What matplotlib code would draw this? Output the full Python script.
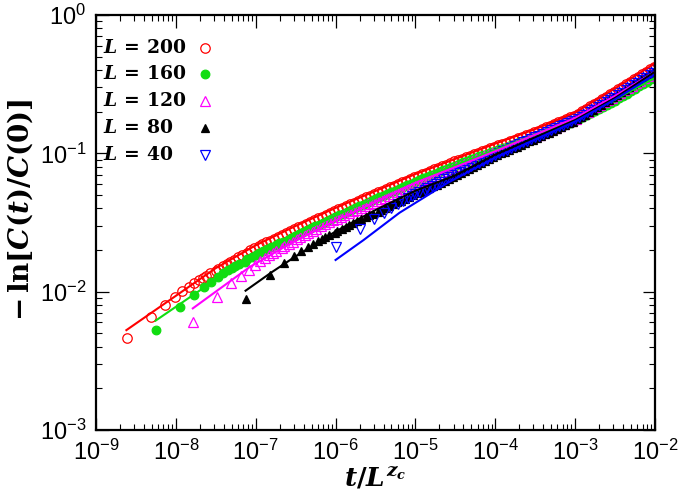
import numpy as np
import matplotlib
matplotlib.use('Agg')
import matplotlib.pyplot as plt
from matplotlib.ticker import FixedLocator, NullFormatter

plt.rcParams['font.family'] = ['Liberation Sans', 'DejaVu Sans']
plt.rcParams['mathtext.fontset'] = 'custom'
plt.rcParams['mathtext.rm'] = 'DejaVu Serif:bold'
plt.rcParams['mathtext.it'] = 'DejaVu Serif:italic:bold'
plt.rcParams['mathtext.bf'] = 'DejaVu Serif:bold'

# dynamic exponent used for the scaling of time
zc = 3.745

# sampled times (shared by all sizes)
t = [1, 2, 3, 4, 5, 6, 7, 8, 9,
     10, 11, 13, 14, 16, 18, 20, 22, 25, 28, 32, 35, 40, 45, 50, 56, 63, 71, 79, 89,
     100, 112, 126, 141, 158, 178, 200, 224, 251, 282, 316, 355, 398, 447, 501,
     562, 631, 708, 794, 891, 1000, 1122, 1259, 1413, 1585, 1778, 1995, 2239,
     2512, 2818, 3162, 3548, 3981, 4467, 5012, 5623, 6310, 7079, 7943, 8913,
     10000, 11220, 12589, 14125, 15849, 17783, 19953, 22387, 25119, 28184, 31623,
     35481, 39811, 44668, 50119, 56234, 63096, 70795, 79433, 89125, 100000,
     112202, 125893, 141254, 158489, 177828, 199526, 223872, 251189, 281838,
     316228, 354813, 398107, 446684, 501187, 562341, 630957, 707946, 794328,
     891251, 1000000, 1122018, 1258925, 1412538, 1584893, 1778279, 1995262,
     2238721, 2511886, 2818383, 3162278, 3548134, 3981072]

sizes = [200, 160, 120, 80, 40]

# -ln[C(t)/C(0)] for each L (markers)
y_L200 = [0.0046, 0.00655, 0.0080, 0.0091, 0.01016, 0.01074, 0.01148, 0.01213, 0.01262,
          0.01306, 0.01357, 0.0141, 0.01465, 0.0152, 0.0158, 0.0164, 0.01705, 0.0177,
          0.0184, 0.0191, 0.01985, 0.0206, 0.0213, 0.0220, 0.0227, 0.0234, 0.02415,
          0.0249, 0.0257, 0.0265, 0.02735, 0.0282, 0.0291, 0.0300, 0.0309, 0.0318,
          0.0328, 0.0338, 0.03485, 0.0359, 0.0370, 0.0381, 0.03925, 0.0404, 0.0416,
          0.0428, 0.04405, 0.0453, 0.04665, 0.0480, 0.0494, 0.0508, 0.05225, 0.0537,
          0.05525, 0.0568, 0.0584, 0.0600, 0.0617, 0.0634, 0.0652, 0.0670, 0.0688,
          0.0706, 0.07255, 0.0745, 0.0765, 0.0785, 0.08065, 0.0828, 0.08505, 0.0873,
          0.08945, 0.0916, 0.0939, 0.0962, 0.09855, 0.1009, 0.1034, 0.1059, 0.10855,
          0.1112, 0.11395, 0.1167, 0.1196, 0.1225, 0.1255, 0.1285, 0.1317, 0.1349,
          0.13825, 0.1416, 0.1456, 0.1496, 0.15385, 0.1581, 0.1626, 0.1671, 0.17185,
          0.1766, 0.1816, 0.1866, 0.1940, 0.2014, 0.20985, 0.2183, 0.22745, 0.2366,
          0.2465, 0.2564, 0.2672, 0.2780, 0.2900, 0.3020, 0.31505, 0.3281, 0.3423,
          0.3565, 0.3719, 0.3873, 0.4040, 0.4207]
y_L160 = [0.00527, 0.00778, 0.00951, 0.01074, 0.0118, 0.01268, 0.01355, 0.01429, 0.01479,
          0.01524, 0.01584, 0.01644, 0.01711, 0.01778, 0.01841, 0.01905, 0.01968,
          0.02032, 0.02097, 0.02163, 0.02232, 0.02301, 0.02378, 0.02455, 0.02533,
          0.02612, 0.02696, 0.0278, 0.02869, 0.02958, 0.03053, 0.03148, 0.03249,
          0.0335, 0.03455, 0.0356, 0.0367, 0.0378, 0.03895, 0.0401, 0.04135, 0.0426,
          0.0439, 0.0452, 0.0466, 0.0480, 0.0494, 0.0508, 0.0523, 0.0538, 0.0554,
          0.0570, 0.0587, 0.0604, 0.0622, 0.0640, 0.0658, 0.0676, 0.06945, 0.0713,
          0.0733, 0.0753, 0.07735, 0.0794, 0.08155, 0.0837, 0.0859, 0.0881, 0.0903,
          0.0925, 0.09485, 0.0972, 0.09965, 0.1021, 0.1045, 0.1069, 0.1094, 0.1119,
          0.11455, 0.1172, 0.11995, 0.1227, 0.1256, 0.1285, 0.1317, 0.1349, 0.13855,
          0.1422, 0.1461, 0.1500, 0.15405, 0.1581, 0.1624, 0.1667, 0.17145, 0.1762,
          0.1823, 0.1884, 0.1949, 0.2014, 0.20835, 0.2153, 0.2230, 0.2307, 0.2401,
          0.2495, 0.25995, 0.2704, 0.28175, 0.2931, 0.30505, 0.3170, 0.3303, 0.3436,
          0.358]
y_L120 = [0.00605, 0.00918, 0.01148, 0.01297, 0.01432, 0.01556, 0.01671, 0.01758, 0.0183,
          0.01897, 0.01974, 0.02051, 0.02135, 0.02218, 0.02304, 0.0239, 0.02479,
          0.02567, 0.02662, 0.02757, 0.02859, 0.02961, 0.0307, 0.0318, 0.03278,
          0.03376, 0.03476, 0.03575, 0.03686, 0.03797, 0.0391, 0.04022, 0.04145,
          0.04268, 0.04394, 0.0452, 0.04655, 0.0479, 0.04925, 0.0506, 0.0521, 0.0536,
          0.0551, 0.0566, 0.0583, 0.0600, 0.0617, 0.0634, 0.0653, 0.0672, 0.0691,
          0.0710, 0.0730, 0.0750, 0.0772, 0.0794, 0.08145, 0.0835, 0.0858, 0.0881,
          0.0905, 0.0929, 0.0954, 0.0979, 0.10045, 0.1030, 0.10565, 0.1083, 0.11115,
          0.1140, 0.11695, 0.1199, 0.1230, 0.1261, 0.12945, 0.1328, 0.13675, 0.1407,
          0.14485, 0.1490, 0.1534, 0.1578, 0.1625, 0.1672, 0.17245, 0.1777, 0.1849,
          0.1921, 0.19995, 0.2078, 0.21625, 0.2247, 0.23385, 0.2430, 0.2530, 0.2630,
          0.2740, 0.2850, 0.2970, 0.3090, 0.32195, 0.3349, 0.34895, 0.3630, 0.3776]
y_L80 = [0.00883, 0.01318, 0.01603, 0.01807, 0.01977, 0.02109, 0.02223, 0.02328, 0.02408,
         0.02483, 0.02578, 0.02673, 0.02762, 0.02851, 0.02943, 0.03034, 0.03136,
         0.03237, 0.03341, 0.03444, 0.03555, 0.03666, 0.03785, 0.03903, 0.04024,
         0.04145, 0.04278, 0.0441, 0.04547, 0.04684, 0.04827, 0.0497, 0.05125, 0.0528,
         0.0544, 0.0560, 0.0577, 0.0594, 0.06125, 0.0631, 0.0651, 0.0671, 0.06945,
         0.0718, 0.0743, 0.0768, 0.07945, 0.0821, 0.08495, 0.0878, 0.0908, 0.0938,
         0.0968, 0.0998, 0.10275, 0.1057, 0.10885, 0.1120, 0.11535, 0.1187, 0.1222,
         0.1257, 0.12945, 0.1332, 0.1373, 0.1414, 0.14575, 0.1501, 0.15475, 0.1594,
         0.1643, 0.1692, 0.1759, 0.1826, 0.1905, 0.1984, 0.2070, 0.2156, 0.2249,
         0.2342, 0.2443, 0.2544, 0.2656, 0.2768, 0.2891, 0.3014, 0.3148, 0.3282,
         0.3428, 0.3574, 0.3733, 0.3892]
y_L40 = [0.02113, 0.02838, 0.03334, 0.03681, 0.03999, 0.04276, 0.04519, 0.04732, 0.0491,
         0.0508, 0.05265, 0.0545, 0.0564, 0.0583, 0.0604, 0.0625, 0.06475, 0.0670,
         0.0693, 0.0716, 0.0738, 0.0760, 0.07835, 0.0807, 0.0832, 0.0857, 0.08855,
         0.0914, 0.09435, 0.0973, 0.1003, 0.1033, 0.10645, 0.1096, 0.1130, 0.1164,
         0.11985, 0.1233, 0.1268, 0.1303, 0.1345, 0.1387, 0.14295, 0.1472, 0.15175,
         0.1563, 0.16115, 0.1660, 0.1709, 0.1758, 0.18315, 0.1905, 0.1985, 0.2065,
         0.2152, 0.2239, 0.2333, 0.2427, 0.25285, 0.2630, 0.2744, 0.2858, 0.29815,
         0.3105, 0.3239, 0.3373, 0.35185, 0.3664, 0.38225, 0.3981]

# fitted curves (lines)
xl_L200 = [2.4e-9, 1e-8, 3.16e-8, 1e-7, 3.16e-7, 1e-6, 1e-5, 1e-4, 3.16e-4, 1e-3, 3.16e-3, 1e-2]
yl_L200 = [0.00527, 0.00933, 0.01479, 0.02163, 0.02985, 0.0403, 0.0708, 0.1175, 0.1496, 0.1972, 0.2951, 0.4467]
xl_L160 = [5.57e-9, 2.69e-8, 1e-7, 3.16e-7, 1e-6, 1e-5, 1e-4, 1e-3, 3.16e-3, 1e-2]
yl_L160 = [0.00617, 0.01148, 0.01841, 0.026, 0.03548, 0.0638, 0.1059, 0.1758, 0.2455, 0.3508]
xl_L120 = [1.63e-8, 3.16e-8, 8.5e-8, 3.16e-7, 1e-6, 1e-5, 1e-4, 1e-3, 3.16e-3, 1e-2]
yl_L120 = [0.00757, 0.0100, 0.01514, 0.02344, 0.03273, 0.0610, 0.1035, 0.1799, 0.260, 0.389]
xl_L80 = [7.46e-8, 1.58e-7, 3.16e-7, 1e-6, 3.16e-6, 1e-5, 3.16e-5, 1e-4, 1e-3, 3.16e-3, 1e-2]
yl_L80 = [0.01016, 0.0138, 0.01799, 0.02723, 0.0389, 0.0537, 0.0692, 0.0977, 0.1738, 0.2512, 0.389]
xl_L40 = [1e-6, 2.24e-6, 6.31e-6, 2.51e-5, 1e-4, 3.16e-4, 1e-3, 3.16e-3, 1e-2]
yl_L40 = [0.01694, 0.0236, 0.03715, 0.0610, 0.0933, 0.1259, 0.1698, 0.2455, 0.3715]

points = [y_L200, y_L160, y_L120, y_L80, y_L40]
lines = [(xl_L200, yl_L200), (xl_L160, yl_L160), (xl_L120, yl_L120),
         (xl_L80, yl_L80), (xl_L40, yl_L40)]

colors = ['#ff0000', '#11dd11', '#ff00ff', '#000000', '#0000ff']
markers = ['o', 'o', '^', '^', 'v']
filled = [False, True, False, True, False]
msizes = [6.8, 6.2, 6.8, 5.2, 6.8]

fig = plt.figure(figsize=(6.8, 4.96), dpi=100)
ax = fig.add_axes([0.1412, 0.1331, 0.822, 0.8367])

for L, y, c, m, f, ms in zip(sizes, points, colors, markers, filled, msizes):
    x = np.array(t[:len(y)], dtype=float) / L ** zc
    ax.plot(x, y, linestyle='none', marker=m, markersize=ms,
            markerfacecolor=c if f else 'none', markeredgecolor=c,
            markeredgewidth=0.9)

for (xl, yl), c in zip(lines, colors):
    ax.plot(xl, yl, color=c, linewidth=1.5)

# key: text on the left, symbol on the right (gnuplot style)
key_y = [0.921, 0.858, 0.793, 0.728, 0.663]
for L, c, m, f, ms, ky in zip(sizes, colors, markers, filled, msizes, key_y):
    ax.text(0.012, ky, r'$L\,=\,\mathbf{%d}$' % L, transform=ax.transAxes,
            fontsize=13.5, ha='left', va='center')
    ax.plot([0.195], [ky], transform=ax.transAxes, linestyle='none', marker=m,
            markersize=ms, markerfacecolor=c if f else 'none', markeredgecolor=c,
            markeredgewidth=0.9, clip_on=False)

ax.set_xscale('log')
ax.set_yscale('log')
ax.set_xlim(1e-9, 1e-2)
ax.set_ylim(1e-3, 1)

# decade ticks only inside the frame, minor ticks at 2..9
xdec = 10.0 ** np.arange(-9, -1)
ydec = 10.0 ** np.arange(-3, 1)
ax.set_xticks(xdec)
ax.set_yticks(ydec)
ax.xaxis.set_minor_locator(FixedLocator([k * d for d in xdec[:-1] for k in range(2, 10)]))
ax.yaxis.set_minor_locator(FixedLocator([k * d for d in ydec[:-1] for k in range(2, 10)]))
ax.xaxis.set_minor_formatter(NullFormatter())
ax.yaxis.set_minor_formatter(NullFormatter())

ax.tick_params(which='both', direction='in', top=True, right=True)
ax.tick_params(which='major', length=9, width=0.9, labelsize=17, pad=7)
ax.tick_params(which='minor', length=4.5, width=0.8)
for s in ax.spines.values():
    s.set_linewidth(1.6)

ax.set_xlabel(r'$t\mathbf{/}L^{z_c}$', fontsize=19)
ax.set_ylabel(r'$\mathbf{-\,ln[}C\mathbf{(}t\mathbf{)/}C\mathbf{(0)]}$', fontsize=20)
ax.xaxis.set_label_coords(0.5, -0.085)
ax.yaxis.set_label_coords(-0.11, 0.53)

fig.savefig('out.png', dpi=100)
